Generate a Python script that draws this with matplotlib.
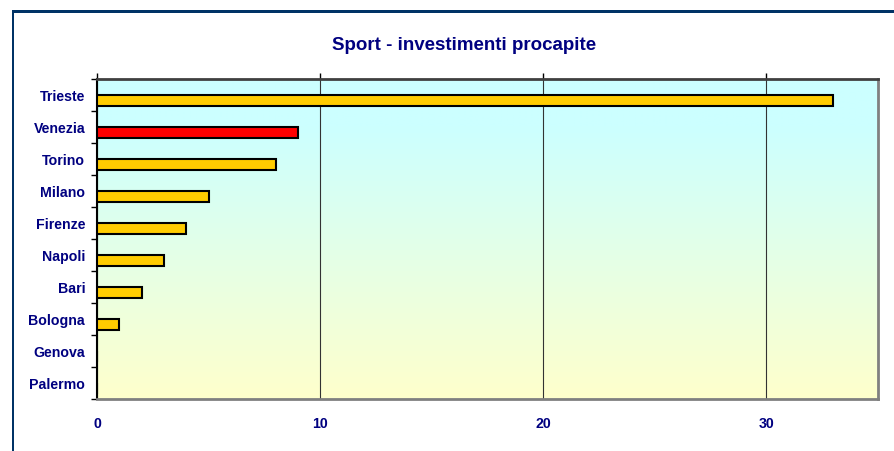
import numpy as np
import matplotlib.pyplot as plt
from matplotlib.patches import Rectangle

# Data.
cities = ['Trieste', 'Venezia', 'Torino', 'Milano', 'Firenze',
          'Napoli', 'Bari', 'Bologna', 'Genova', 'Palermo']
values = [33, 9, 8, 5, 4, 3, 2, 1, 0, 0]
highlight = 'Venezia'
xticks = [0, 10, 20, 30]

navy = '#000080'
plt.rcParams['font.family'] = ['Liberation Sans', 'DejaVu Sans']
plt.rcParams['font.weight'] = 'bold'

fig = plt.figure(figsize=(8.95, 4.52), dpi=100)
fig.patch.set_facecolor('white')

# Dark frame on the left and top of the picture.
fig.add_artist(Rectangle((12 / 895, 0), 2.5 / 895, 1 - 11 / 452,
                         transform=fig.transFigure, color='#003366', lw=0))
fig.add_artist(Rectangle((12 / 895, 1 - 13.5 / 452), 1, 2.5 / 452,
                         transform=fig.transFigure, color='#003366', lw=0))

ax = fig.add_axes([97 / 895, 1 - 400 / 452, 781 / 895, 320 / 452])

# Vertical gradient background: light cyan at the top, pale yellow below.
v = np.linspace(1, 0, 300)
w = np.clip(v / 0.85, 0, 1)[:, None, None] * np.ones((1, 2, 1))
cyan = np.array([204, 255, 255]) / 255
yellow = np.array([255, 255, 204]) / 255
img = w * cyan + (1 - w) * yellow
ax.imshow(img, extent=(0, 1, 0, 1), transform=ax.transAxes,
          aspect='auto', zorder=0, interpolation='bilinear')

pos = np.arange(len(cities))
colors = ['#FF0000' if c == highlight else '#FFCC00' for c in cities]
ax.barh(pos + 0.17, values, height=0.34, color=colors,
        edgecolor='black', linewidth=1.5, zorder=3)

ax.set_xlim(0, 35)
ax.set_ylim(len(cities) - 0.5, -0.5)

# Category labels at the centres, tick marks at the boundaries.
ax.set_yticks(np.arange(-0.5, len(cities), 1))
ax.set_yticklabels([])
ax.set_yticks(pos, minor=True)
ax.set_yticklabels(cities, minor=True, fontsize=10.2, fontweight='bold',
                   color=navy)
ax.tick_params(axis='y', which='major', direction='out', length=4,
               width=1, color='black')
ax.tick_params(axis='y', which='minor', length=0, pad=8.5)

ax.set_xticks(xticks)
ax.set_xticklabels([str(t) for t in xticks], fontsize=10.2,
                   fontweight='bold', color=navy)
ax.tick_params(axis='x', bottom=False, top=True, labelbottom=True,
               labeltop=False, direction='out', length=4, width=1,
               color='black', pad=8)

ax.xaxis.grid(True, color='#333333', linewidth=0.8, zorder=1)
ax.set_axisbelow(True)

ax.spines['left'].set_color('black')
ax.spines['left'].set_linewidth(1.5)
ax.spines['top'].set_color('#404040')
ax.spines['top'].set_linewidth(2)
ax.spines['right'].set_color('#808080')
ax.spines['right'].set_linewidth(2)
ax.spines['bottom'].set_color('#808080')
ax.spines['bottom'].set_linewidth(2)

fig.text(464 / 895, 1 - 45 / 452, 'Sport - investimenti procapite',
         ha='center', va='center', fontsize=13.5, fontweight='bold',
         color=navy)

fig.savefig('out.png', dpi=100)
